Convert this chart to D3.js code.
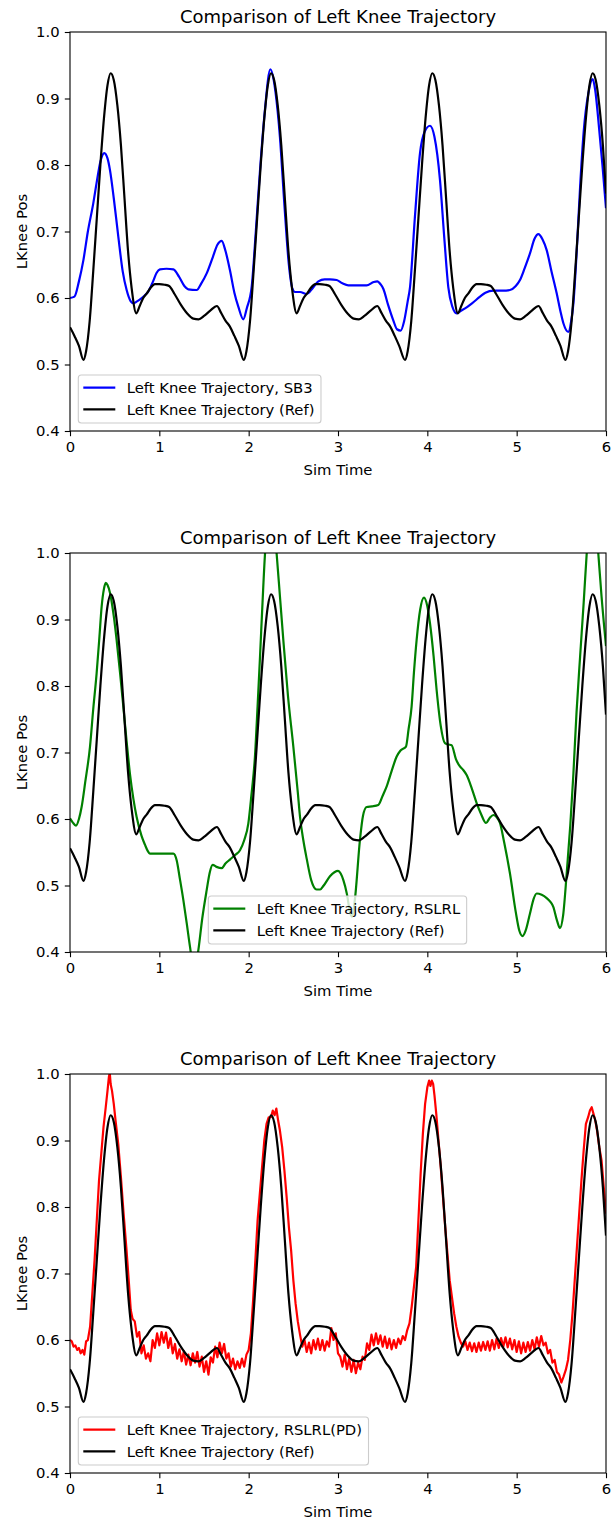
<!DOCTYPE html>
<html>
<head>
<meta charset="utf-8">
<script src="https://cdn.jsdelivr.net/npm/d3@7"></script>
<style>
  body { margin: 0; background: #fff; }
  text { font-family: "DejaVu Sans", sans-serif; fill: #000; }
</style>
</head>
<body>
<div id="chart"></div>
<script>
/**
 * DATA
 * each entry is [sim time, knee position]
 * */
const refData = [
  [0.00, 0.556], [0.05, 0.543], [0.10, 0.528],
  [0.15, 0.507], [0.18, 0.520], [0.22, 0.565], [0.26, 0.640], [0.30, 0.720], [0.34, 0.800],
  [0.38, 0.870], [0.42, 0.920], [0.455, 0.938], [0.49, 0.928], [0.53, 0.890], [0.57, 0.830],
  [0.61, 0.750], [0.65, 0.670], [0.69, 0.615], [0.743, 0.577], [0.78, 0.588], [0.82, 0.600],
  [0.86, 0.607], [0.90, 0.615], [0.95, 0.621], [1.00, 0.621], [1.06, 0.620], [1.11, 0.618],
  [1.17, 0.606], [1.24, 0.590], [1.31, 0.577], [1.38, 0.569], [1.44, 0.568], [1.50, 0.573],
  [1.57, 0.581], [1.645, 0.588], [1.69, 0.578], [1.74, 0.566], [1.79, 0.557], [1.84, 0.543],
  [1.89, 0.528],
  [1.945, 0.507], [1.975, 0.520], [2.015, 0.565], [2.055, 0.640], [2.095, 0.720], [2.135, 0.800],
  [2.175, 0.870], [2.215, 0.920], [2.25, 0.938], [2.285, 0.928], [2.325, 0.890], [2.365, 0.830],
  [2.405, 0.750], [2.445, 0.670], [2.485, 0.615], [2.538, 0.577], [2.575, 0.588], [2.615, 0.600],
  [2.655, 0.607], [2.695, 0.615], [2.745, 0.621], [2.795, 0.621], [2.855, 0.620], [2.905, 0.618],
  [2.965, 0.606], [3.035, 0.590], [3.105, 0.577], [3.175, 0.569], [3.235, 0.568], [3.295, 0.573],
  [3.365, 0.581], [3.44, 0.588], [3.485, 0.578], [3.535, 0.566], [3.585, 0.557], [3.635, 0.543],
  [3.685, 0.528],
  [3.75, 0.507], [3.78, 0.520], [3.82, 0.565], [3.86, 0.640], [3.90, 0.720], [3.94, 0.800],
  [3.98, 0.870], [4.02, 0.920], [4.055, 0.938], [4.09, 0.928], [4.13, 0.890], [4.17, 0.830],
  [4.21, 0.750], [4.25, 0.670], [4.29, 0.615], [4.343, 0.577], [4.38, 0.588], [4.42, 0.600],
  [4.46, 0.607], [4.50, 0.615], [4.55, 0.621], [4.60, 0.621], [4.66, 0.620], [4.71, 0.618],
  [4.77, 0.606], [4.84, 0.590], [4.91, 0.577], [4.98, 0.569], [5.04, 0.568], [5.10, 0.573],
  [5.17, 0.581], [5.245, 0.588], [5.29, 0.578], [5.34, 0.566], [5.39, 0.557], [5.44, 0.543],
  [5.49, 0.528],
  [5.545, 0.507], [5.575, 0.520], [5.615, 0.565], [5.655, 0.640], [5.695, 0.720], [5.735, 0.800],
  [5.775, 0.870], [5.815, 0.920], [5.85, 0.938], [5.885, 0.928], [5.925, 0.890], [5.965, 0.830],
  [6.00, 0.757]
];

const sb3Data = [
  [0.00, 0.600], [0.05, 0.602], [0.10, 0.625], [0.15, 0.657], [0.20, 0.700], [0.26, 0.742],
  [0.30, 0.775], [0.34, 0.805], [0.384, 0.818], [0.42, 0.810], [0.448, 0.792], [0.49, 0.750],
  [0.541, 0.692], [0.59, 0.640], [0.634, 0.612], [0.68, 0.595], [0.709, 0.592], [0.75, 0.595],
  [0.784, 0.598], [0.83, 0.603], [0.877, 0.610], [0.93, 0.625], [0.97, 0.638], [1.007, 0.643],
  [1.08, 0.644], [1.157, 0.643], [1.22, 0.632], [1.28, 0.618], [1.324, 0.613], [1.418, 0.612],
  [1.47, 0.622], [1.53, 0.637], [1.60, 0.662], [1.65, 0.680], [1.698, 0.686], [1.74, 0.671],
  [1.79, 0.642], [1.84, 0.608], [1.884, 0.587], [1.94, 0.568], [1.98, 0.585], [2.034, 0.617],
  [2.08, 0.700], [2.127, 0.792], [2.18, 0.880], [2.243, 0.944], [2.28, 0.928], [2.30, 0.910],
  [2.35, 0.842], [2.40, 0.740], [2.45, 0.650], [2.49, 0.614], [2.518, 0.609], [2.575, 0.609],
  [2.649, 0.606], [2.70, 0.612], [2.78, 0.625], [2.85, 0.628], [2.91, 0.628], [2.985, 0.627],
  [3.05, 0.622], [3.116, 0.619], [3.22, 0.619], [3.32, 0.619], [3.40, 0.624], [3.44, 0.625],
  [3.48, 0.620], [3.507, 0.614], [3.56, 0.590], [3.62, 0.566], [3.66, 0.553], [3.702, 0.551],
  [3.74, 0.565], [3.78, 0.595], [3.806, 0.616], [3.86, 0.720], [3.918, 0.818], [3.97, 0.850],
  [4.03, 0.859], [4.08, 0.842], [4.142, 0.777], [4.19, 0.690], [4.235, 0.616],
  [4.28, 0.587], [4.328, 0.577], [4.38, 0.581], [4.44, 0.586], [4.50, 0.592], [4.59, 0.602],
  [4.65, 0.608], [4.74, 0.611], [4.84, 0.611], [4.925, 0.612], [4.99, 0.618], [5.037, 0.627],
  [5.09, 0.645], [5.149, 0.667], [5.20, 0.689], [5.243, 0.696], [5.29, 0.688], [5.336, 0.672],
  [5.39, 0.640], [5.448, 0.607], [5.49, 0.580], [5.523, 0.562], [5.579, 0.549], [5.61, 0.565],
  [5.635, 0.592], [5.67, 0.665], [5.71, 0.767], [5.75, 0.850], [5.803, 0.908], [5.851, 0.929],
  [5.88, 0.912], [5.914, 0.868], [5.96, 0.800], [6.00, 0.735]
];

const rslrlData = [
  [0.00, 0.601], [0.03, 0.595], [0.067, 0.590], [0.10, 0.600], [0.13, 0.618], [0.17, 0.655],
  [0.224, 0.709], [0.26, 0.765], [0.298, 0.819], [0.33, 0.875], [0.354, 0.919], [0.38, 0.946],
  [0.40, 0.955], [0.42, 0.952], [0.448, 0.940], [0.49, 0.905], [0.522, 0.869], [0.56, 0.820],
  [0.597, 0.769], [0.635, 0.715], [0.671, 0.668], [0.71, 0.630], [0.746, 0.603], [0.80, 0.575],
  [0.84, 0.561], [0.87, 0.552], [0.895, 0.548], [0.95, 0.548], [1.05, 0.548], [1.157, 0.548],
  [1.194, 0.538], [1.23, 0.510], [1.269, 0.478], [1.31, 0.440], [1.343, 0.408], [1.39, 0.372],
  [1.437, 0.403], [1.48, 0.450], [1.53, 0.493], [1.565, 0.520], [1.597, 0.531], [1.64, 0.528],
  [1.698, 0.526], [1.74, 0.533], [1.79, 0.539], [1.85, 0.546], [1.903, 0.553], [1.95, 0.568],
  [1.996, 0.593], [2.03, 0.635], [2.07, 0.693], [2.10, 0.770], [2.127, 0.844], [2.155, 0.925],
  [2.183, 0.999], [2.22, 1.050], [2.25, 1.062], [2.28, 1.050], [2.313, 0.999], [2.35, 0.935],
  [2.388, 0.869], [2.44, 0.785], [2.50, 0.709], [2.55, 0.640], [2.575, 0.603], [2.612, 0.568],
  [2.65, 0.540], [2.70, 0.508], [2.76, 0.494], [2.80, 0.494], [2.84, 0.500], [2.91, 0.514],
  [2.96, 0.520], [3.00, 0.522], [3.03, 0.518], [3.06, 0.508], [3.10, 0.487], [3.134, 0.460],
  [3.16, 0.453], [3.19, 0.480], [3.246, 0.569], [3.28, 0.605], [3.321, 0.618], [3.38, 0.619],
  [3.451, 0.621], [3.50, 0.635], [3.545, 0.649], [3.60, 0.672], [3.657, 0.694], [3.70, 0.703],
  [3.761, 0.709], [3.79, 0.735], [3.824, 0.769], [3.85, 0.820], [3.88, 0.869], [3.92, 0.915],
  [3.962, 0.933], [4.00, 0.920], [4.03, 0.894], [4.07, 0.845], [4.104, 0.794], [4.15, 0.740],
  [4.197, 0.714], [4.235, 0.712], [4.272, 0.711], [4.32, 0.690], [4.365, 0.679], [4.40, 0.674],
  [4.44, 0.666], [4.50, 0.645], [4.552, 0.624], [4.60, 0.608], [4.657, 0.594], [4.70, 0.602],
  [4.739, 0.606], [4.78, 0.602], [4.813, 0.594], [4.86, 0.565], [4.925, 0.518], [4.99, 0.460],
  [5.03, 0.432], [5.067, 0.424], [5.10, 0.432], [5.149, 0.458], [5.19, 0.480], [5.224, 0.488],
  [5.28, 0.486], [5.336, 0.481], [5.38, 0.475], [5.41, 0.468], [5.45, 0.448], [5.485, 0.436],
  [5.52, 0.455], [5.56, 0.518], [5.60, 0.590], [5.635, 0.668], [5.67, 0.760], [5.71, 0.844],
  [5.75, 0.925], [5.784, 0.999], [5.82, 1.060], [5.85, 1.075], [5.88, 1.060], [5.914, 0.999],
  [5.95, 0.935], [6.00, 0.860]
];

const pdData = [
  [0.000, 0.600], [0.020, 0.598], [0.040, 0.590], [0.060, 0.592], [0.080, 0.585], [0.100, 0.588],
  [0.120, 0.580], [0.140, 0.585], [0.160, 0.578], [0.180, 0.598], [0.200, 0.600], [0.225, 0.620],
  [0.250, 0.670], [0.275, 0.720], [0.300, 0.780], [0.325, 0.840], [0.350, 0.880], [0.375, 0.920],
  [0.400, 0.950], [0.420, 0.975], [0.435, 0.995], [0.445, 1.002], [0.455, 0.985], [0.470, 0.975],
  [0.490, 0.955], [0.510, 0.930], [0.540, 0.895], [0.570, 0.845], [0.600, 0.790], [0.630, 0.740],
  [0.660, 0.685], [0.680, 0.645], [0.700, 0.632], [0.725, 0.628], [0.750, 0.605], [0.775, 0.612],
  [0.800, 0.580], [0.825, 0.592], [0.850, 0.572], [0.875, 0.580], [0.900, 0.568], [0.925, 0.600],
  [0.950, 0.588], [0.975, 0.610], [1.000, 0.592], [1.025, 0.612], [1.050, 0.596], [1.075, 0.611],
  [1.100, 0.588], [1.125, 0.603], [1.150, 0.580], [1.175, 0.594], [1.200, 0.572], [1.225, 0.586],
  [1.250, 0.568], [1.275, 0.583], [1.300, 0.563], [1.325, 0.578], [1.350, 0.562], [1.375, 0.580],
  [1.400, 0.566], [1.425, 0.582], [1.450, 0.560], [1.475, 0.575], [1.500, 0.552], [1.525, 0.568],
  [1.550, 0.548], [1.575, 0.574], [1.600, 0.566], [1.625, 0.590], [1.650, 0.574], [1.675, 0.596],
  [1.700, 0.580], [1.725, 0.594], [1.750, 0.572], [1.775, 0.580], [1.800, 0.560], [1.825, 0.572],
  [1.850, 0.556], [1.875, 0.568], [1.900, 0.558], [1.925, 0.572], [1.950, 0.560], [1.975, 0.578],
  [2.000, 0.585], [2.025, 0.610], [2.050, 0.660], [2.075, 0.720], [2.100, 0.780], [2.125, 0.820],
  [2.150, 0.860], [2.175, 0.900], [2.200, 0.925], [2.225, 0.935], [2.250, 0.935], [2.270, 0.945],
  [2.290, 0.938], [2.310, 0.948], [2.330, 0.930], [2.350, 0.915], [2.375, 0.890], [2.400, 0.855],
  [2.425, 0.815], [2.450, 0.770], [2.475, 0.735], [2.500, 0.690], [2.525, 0.655], [2.550, 0.628],
  [2.575, 0.608], [2.600, 0.590], [2.625, 0.600], [2.650, 0.582], [2.675, 0.596], [2.700, 0.580],
  [2.725, 0.600], [2.750, 0.586], [2.775, 0.602], [2.800, 0.585], [2.825, 0.600], [2.850, 0.584],
  [2.875, 0.598], [2.900, 0.590], [2.925, 0.618], [2.950, 0.600], [2.975, 0.610], [3.000, 0.580],
  [3.025, 0.575], [3.050, 0.560], [3.075, 0.578], [3.100, 0.556], [3.125, 0.572], [3.150, 0.552],
  [3.175, 0.570], [3.200, 0.550], [3.225, 0.566], [3.250, 0.556], [3.275, 0.575], [3.300, 0.570],
  [3.325, 0.595], [3.350, 0.585], [3.375, 0.608], [3.400, 0.592], [3.425, 0.610], [3.450, 0.594],
  [3.475, 0.607], [3.500, 0.590], [3.525, 0.605], [3.550, 0.588], [3.575, 0.602], [3.600, 0.586],
  [3.625, 0.600], [3.650, 0.588], [3.675, 0.602], [3.700, 0.594], [3.725, 0.606], [3.750, 0.600],
  [3.775, 0.615], [3.800, 0.625], [3.825, 0.650], [3.850, 0.680], [3.875, 0.710], [3.900, 0.780],
  [3.925, 0.850], [3.950, 0.910], [3.975, 0.955], [4.000, 0.980], [4.020, 0.990], [4.035, 0.982],
  [4.050, 0.990], [4.065, 0.985], [4.080, 0.968], [4.100, 0.940], [4.125, 0.900], [4.150, 0.860],
  [4.175, 0.815], [4.200, 0.770], [4.225, 0.730], [4.250, 0.690], [4.275, 0.665], [4.300, 0.640],
  [4.325, 0.620], [4.350, 0.605], [4.375, 0.596], [4.400, 0.590], [4.425, 0.598], [4.450, 0.585],
  [4.475, 0.596], [4.500, 0.583], [4.525, 0.595], [4.550, 0.582], [4.575, 0.596], [4.600, 0.584],
  [4.625, 0.597], [4.650, 0.585], [4.675, 0.598], [4.700, 0.584], [4.725, 0.600], [4.750, 0.586],
  [4.775, 0.602], [4.800, 0.588], [4.825, 0.603], [4.850, 0.590], [4.875, 0.604], [4.900, 0.589],
  [4.925, 0.602], [4.950, 0.586], [4.975, 0.600], [5.000, 0.582], [5.025, 0.598], [5.050, 0.580],
  [5.075, 0.596], [5.100, 0.582], [5.125, 0.597], [5.150, 0.584], [5.175, 0.600], [5.200, 0.586],
  [5.225, 0.604], [5.250, 0.590], [5.275, 0.606], [5.300, 0.592], [5.325, 0.596], [5.350, 0.580],
  [5.375, 0.585], [5.400, 0.566], [5.425, 0.570], [5.450, 0.552], [5.475, 0.548], [5.500, 0.536],
  [5.525, 0.545], [5.550, 0.555], [5.575, 0.570], [5.600, 0.600], [5.625, 0.640], [5.650, 0.690],
  [5.675, 0.740], [5.700, 0.790], [5.725, 0.840], [5.750, 0.885], [5.775, 0.925], [5.800, 0.935],
  [5.820, 0.945], [5.840, 0.950], [5.860, 0.940], [5.880, 0.930], [5.900, 0.915], [5.925, 0.890],
  [5.950, 0.870], [5.975, 0.830], [6.000, 0.790]
];

const seriesLabels = [
  "Left Knee Trajectory, SB3",
  "Left Knee Trajectory, RSLRL",
  "Left Knee Trajectory, RSLRL(PD)"
];
const refLabel = "Left Knee Trajectory (Ref)";
const titleText = "Comparison of Left Knee Trajectory";
const xLabel = "Sim Time";
const yLabel = "LKnee Pos";
const xTicks = [0, 1, 2, 3, 4, 5, 6];
const yTicks = [0.4, 0.5, 0.6, 0.7, 0.8, 0.9, 1.0];

/**
 * LAYOUT
 * */
const width = 612,
  height = 1522,
  margin = { left: 70, right: 6 },
  plotH = 399,
  fontSize = 14.8,
  titleSize = 18;

const panels = [
  { data: sb3Data, color: "#0000ff", label: seriesLabels[0], top: 32, legendX: 78.3, curve: d3.curveMonotoneX },
  { data: rslrlData, color: "#008000", label: seriesLabels[1], top: 553, legendX: 208.3, curve: d3.curveMonotoneX },
  { data: pdData, color: "#ff0000", label: seriesLabels[2], top: 1074, legendX: 78.3, curve: d3.curveLinear }
];

const svg = d3.select("#chart")
  .append("svg")
  .attr("width", width)
  .attr("height", height);

const x = d3.scaleLinear().domain([0, 6]).range([margin.left, width - margin.right]);

panels.forEach((p, i) => {
  const y = d3.scaleLinear().domain([0.4, 1.0]).range([p.top + plotH, p.top]);
  const g = svg.append("g");

  // clip lines to the axes box
  g.append("clipPath").attr("id", "clip" + i)
    .append("rect")
    .attr("x", x(0)).attr("y", p.top)
    .attr("width", x(6) - x(0)).attr("height", plotH);

  const line = d3.line().x(d => x(d[0])).y(d => y(d[1]));

  const lines = g.append("g").attr("clip-path", `url(#clip${i})`);
  lines.append("path")
    .datum(p.data)
    .attr("d", line.curve(p.curve))
    .attr("fill", "none")
    .attr("stroke", p.color)
    .attr("stroke-width", 2.2)
    .attr("stroke-linejoin", "round");
  lines.append("path")
    .datum(refData)
    .attr("d", line.curve(d3.curveMonotoneX))
    .attr("fill", "none")
    .attr("stroke", "#000")
    .attr("stroke-width", 2.2)
    .attr("stroke-linejoin", "round");

  // axes
  const xAxis = d3.axisBottom(x).tickValues(xTicks).tickFormat(d3.format("d"))
    .tickSizeInner(5.2).tickSizeOuter(0).tickPadding(5.2);
  const yAxis = d3.axisLeft(y).tickValues(yTicks).tickFormat(d3.format(".1f"))
    .tickSizeInner(5.2).tickSizeOuter(0).tickPadding(5.2);

  const gx = g.append("g").attr("transform", `translate(0,${p.top + plotH})`).call(xAxis);
  const gy = g.append("g").attr("transform", `translate(${x(0)},0)`).call(yAxis);
  [gx, gy].forEach(a => {
    a.select(".domain").remove();
    a.selectAll("line").attr("stroke", "#000").attr("stroke-width", 1.1);
    a.selectAll("text").attr("font-family", "DejaVu Sans").attr("font-size", fontSize).attr("fill", "#000");
  });

  // spines
  g.append("rect")
    .attr("x", x(0)).attr("y", p.top)
    .attr("width", x(6) - x(0)).attr("height", plotH)
    .attr("fill", "none")
    .attr("stroke", "#000")
    .attr("stroke-width", 1.1);

  // title and labels
  g.append("text")
    .attr("x", (x(0) + x(6)) / 2).attr("y", p.top - 8.8)
    .attr("text-anchor", "middle")
    .attr("font-size", titleSize)
    .text(titleText);
  g.append("text")
    .attr("x", (x(0) + x(6)) / 2).attr("y", p.top + plotH + 44)
    .attr("text-anchor", "middle")
    .attr("font-size", fontSize)
    .text(xLabel);
  g.append("text")
    .attr("transform", `translate(27,${p.top + plotH / 2}) rotate(-90)`)
    .attr("text-anchor", "middle")
    .attr("font-size", fontSize)
    .text(yLabel);

  // legend
  const ly = p.top + 343;
  const leg = g.append("g");
  const box = leg.append("rect")
    .attr("x", p.legendX).attr("y", ly)
    .attr("height", 48)
    .attr("rx", 3)
    .attr("fill", "#fff").attr("fill-opacity", 0.8)
    .attr("stroke", "#cccccc").attr("stroke-width", 1.1);
  const items = [[p.label, p.color], [refLabel, "#000"]];
  let maxW = 0;
  items.forEach((it, k) => {
    const cy = ly + 12.7 + k * 21.6;
    leg.append("line")
      .attr("x1", p.legendX + 5).attr("x2", p.legendX + 37)
      .attr("y1", cy).attr("y2", cy)
      .attr("stroke", it[1]).attr("stroke-width", 2.2);
    const t = leg.append("text")
      .attr("x", p.legendX + 48.4).attr("y", cy)
      .attr("dy", "0.36em")
      .attr("font-size", fontSize)
      .text(it[0]);
    maxW = Math.max(maxW, t.node().getComputedTextLength());
  });
  box.attr("width", 48.4 + maxW + 6.5);
});
</script>
</body>
</html>
